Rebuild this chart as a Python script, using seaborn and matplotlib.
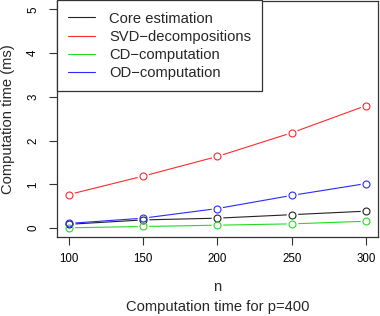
import numpy as np
import pandas as pd
import matplotlib
matplotlib.use('Agg')
import matplotlib.pyplot as plt
import seaborn as sns

# valores
n_values = [100, 150, 200, 250, 300]
core_est = [0.09, 0.19, 0.23, 0.31, 0.39]
svd_dec = [0.77, 1.19, 1.64, 2.18, 2.80]
cd_comp = [0.01, 0.04, 0.07, 0.10, 0.16]
od_comp = [0.11, 0.23, 0.45, 0.75, 1.02]

labels = ['Core estimation', 'SVD\u2212decompositions', 'CD\u2212computation', 'OD\u2212computation']
colors = ['#222222', '#ff2a2a', '#22dd22', '#2a2aff']

df = pd.DataFrame({
    'n': n_values * 4,
    'time': core_est + svd_dec + cd_comp + od_comp,
    'method': [lab for lab in labels for _ in n_values],
})
palette = dict(zip(labels, colors))

sns.set_theme(style='ticks')
plt.rcParams['font.family'] = ['Liberation Sans', 'DejaVu Sans']

fig = plt.figure(figsize=(3.8, 3.16), dpi=100)
ax = fig.add_axes([57 / 380, 1 - 237 / 316, 321 / 380, 236.5 / 316])

# linhas
sns.lineplot(data=df, x='n', y='time', hue='method', hue_order=labels,
             palette=palette, linewidth=0.8, ax=ax, zorder=2)
# mascara branca para o efeito type="b" do R
sns.scatterplot(data=df, x='n', y='time', color='white', s=70,
                linewidth=0, ax=ax, zorder=3, legend=False)
# circulos abertos
n_before = len(ax.get_lines())
sns.lineplot(data=df, x='n', y='time', hue='method', hue_order=labels,
             palette=palette, linewidth=0, marker='o', markersize=5,
             markerfacecolor='none', markeredgewidth=0.8, ax=ax,
             zorder=4, legend=False)
for ln in ax.get_lines()[n_before:]:
    ln.set_markeredgecolor(ln.get_color())

ax.set_xlim(92, 308)
ax.set_ylim(-0.2, 5.2)
ax.set_xticks([100, 150, 200, 250, 300])
ax.set_yticks([0, 1, 2, 3, 4, 5])

for sp in ax.spines.values():
    sp.set_visible(True)
    sp.set_color('#333333')
    sp.set_linewidth(0.9)

ax.tick_params(axis='both', direction='out', length=5.8, width=0.8,
               color='#333333', labelsize=8.3, labelcolor='black')
ax.tick_params(axis='x', pad=6)
ax.tick_params(axis='y', pad=7)
plt.setp(ax.get_yticklabels(), rotation=90, va='center')

ax.set_xlabel('n', fontsize=10.6)
ax.xaxis.set_label_coords(0.5, -0.21)
ax.xaxis.label.set_va('center')
ax.set_ylabel('Computation time (ms)', fontsize=10.6)
ax.yaxis.set_label_coords(-0.152, 0.5)
ax.yaxis.label.set_va('center')

handles, labs = ax.get_legend_handles_labels()
leg = ax.legend(handles, labs, loc='upper left', bbox_to_anchor=(0, 1),
                borderaxespad=0, fontsize=10.6, frameon=True, fancybox=False,
                framealpha=1, edgecolor='#333333', handlelength=1.85,
                handletextpad=0.95, labelspacing=0.28, borderpad=0.75)
leg.get_frame().set_linewidth(0.9)

fig.text(217.5 / 380, 1 - 307 / 316, 'Computation time for p=400',
         ha='center', va='center', fontsize=10.6)

fig.savefig('out.png', dpi=100)
